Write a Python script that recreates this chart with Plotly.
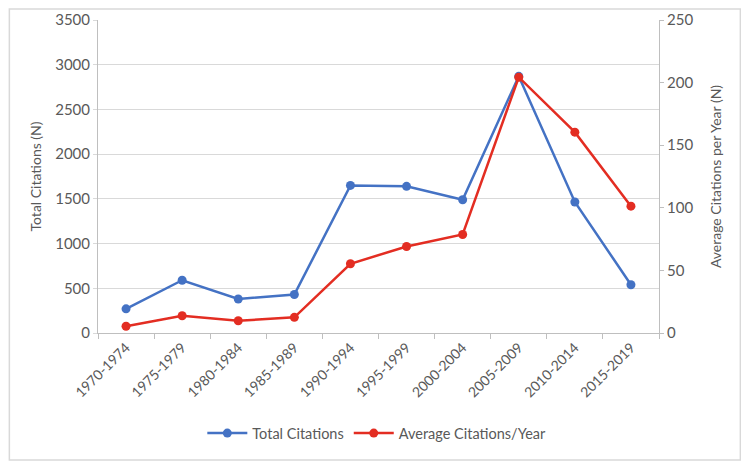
import plotly.graph_objects as go

periods = ["1970-1974", "1975-1979", "1980-1984", "1985-1989", "1990-1994",
           "1995-1999", "2000-2004", "2005-2009", "2010-2014", "2015-2019"]
total_citations = [270, 590, 380, 430, 1650, 1640, 1490, 2870, 1465, 540]
avg_citations_per_year = [5.4, 13.8, 9.8, 12.5, 55.3, 69.1, 78.7, 204.3, 160.4, 101.3]

BLUE = "#4472C4"
RED = "#E32D22"
FONT = "Lato, 'Open Sans', sans-serif"
TXT = "#595959"

fig = go.Figure()
fig.add_trace(go.Scatter(
    x=periods, y=total_citations, name="Total Citations",
    mode="lines+markers", line=dict(color=BLUE, width=2.5),
    marker=dict(color=BLUE, size=9), yaxis="y"))
fig.add_trace(go.Scatter(
    x=periods, y=avg_citations_per_year, name="Average Citations/Year",
    mode="lines+markers", line=dict(color=RED, width=2.5),
    marker=dict(color=RED, size=9), yaxis="y2"))

# page body has an 8px default margin, so the figure is sized to fill the rest
fig.update_layout(
    width=741, height=454,
    margin=dict(l=90, r=90, t=12, b=129, autoexpand=False),
    paper_bgcolor="white", plot_bgcolor="white",
    font=dict(family=FONT, size=15, color=TXT),
    showlegend=True,
    legend=dict(orientation="h", x=0.497, xref="paper", xanchor="center",
                y=-0.32, yanchor="middle", font=dict(size=14.5, color=TXT),
                itemwidth=40, tracegroupgap=0),
    xaxis=dict(type="category", range=[-0.5, 9.5], tickangle=-45, automargin=False,
               showline=True, linecolor="#bfbfbf", linewidth=1,
               ticks="outside", tickson="boundaries", ticklen=5, tickcolor="#bfbfbf",
               showgrid=False, tickfont=dict(size=14, color=TXT)),
    yaxis=dict(range=[0, 3500], dtick=500, showgrid=True, gridcolor="#d9d9d9",
               gridwidth=1, showline=True, linecolor="#bfbfbf", zeroline=False,
               ticks="outside", ticklen=4, tickcolor="#d9d9d9", automargin=False,
               title=dict(text="Total Citations (N)", font=dict(size=14, color=TXT), standoff=10),
               tickfont=dict(size=15, color=TXT)),
    yaxis2=dict(range=[0, 250], dtick=50, overlaying="y", side="right", automargin=False,
                showgrid=False, showline=True, linecolor="#bfbfbf", zeroline=False,
                ticks="outside", ticklen=4, tickcolor="#bfbfbf",
                title=dict(text="Average Citations per Year (N)", font=dict(size=14, color=TXT), standoff=18),
                tickfont=dict(size=15, color=TXT)),
)

fig.add_shape(type="rect", xref="paper", yref="paper",
              x0=-0.158, x1=1.145, y0=-0.406, y1=1.035,
              line=dict(color="#d9d9d9", width=1.5), fillcolor="rgba(0,0,0,0)", layer="below")

fig.write_html("out.html")
